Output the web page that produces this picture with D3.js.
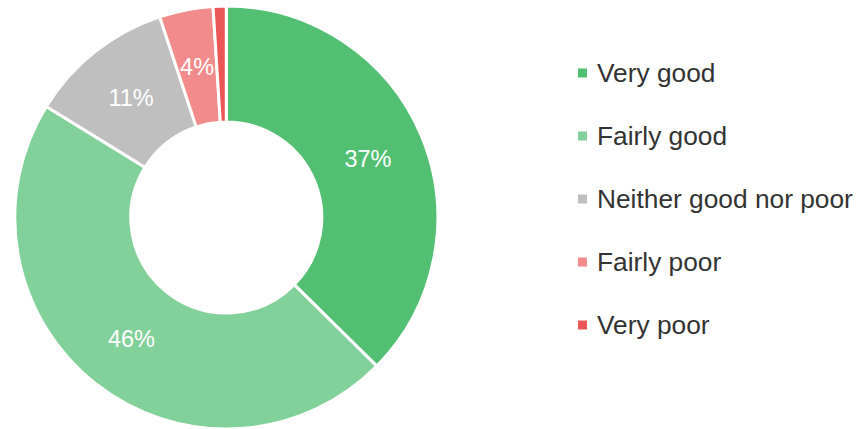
<!DOCTYPE html>
<html>
<head>
<meta charset="utf-8">
<script src="https://cdn.jsdelivr.net/npm/d3@7"></script>
<style>
  body { margin: 0; background: #fff; }
  text { font-family: "Liberation Sans", Arial, sans-serif; }
</style>
</head>
<body>
<div id="chart"></div>
<script>
const categories = ["Very good", "Fairly good", "Neither good nor poor", "Fairly poor", "Very poor"];
const values = [37.4, 46.4, 11.1, 4.1, 1.0];
const labels = ["37%", "46%", "11%", "4%", ""];
const colors = ["#52bf72", "#83d19a", "#bfbfbf", "#f28b8b", "#eb5757"];

const width = 858;
const height = 429;
const cx = 226.3, cy = 217.5;
const outerR = 211.5, innerR = 95.5;

const svg = d3.select("#chart")
    .append("svg")
    .attr("width", width)
    .attr("height", height);

const data = categories.map((c, i) => ({ name: c, value: values[i], label: labels[i], color: colors[i] }));

const pie = d3.pie().sort(null).value((d) => d.value);
const arc = d3.arc().innerRadius(innerR).outerRadius(outerR);

const g = svg.append("g").attr("transform", `translate(${cx},${cy})`);

const arcs = pie(data);

g.selectAll("path")
    .data(arcs)
    .join("path")
    .attr("d", arc)
    .attr("fill", (d) => d.data.color)
    .attr("stroke", "#fff")
    .attr("stroke-width", 3);

// labels sit at the middle of each ring segment
g.selectAll("text")
    .data(arcs)
    .join("text")
    .attr("transform", (d) => `translate(${arc.centroid(d)})`)
    .attr("text-anchor", "middle")
    .attr("dy", "0.36em")
    .attr("fill", "#fff")
    .attr("font-size", 23.5)
    .text((d) => d.data.label);

// legend
const legendY = d3.scalePoint().domain(categories).range([73, 325]);

const legend = svg.append("g");
const item = legend.selectAll("g")
    .data(data)
    .join("g")
    .attr("transform", (d) => `translate(578,${legendY(d.name)})`);

item.append("rect")
    .attr("x", 0)
    .attr("y", -4.5)
    .attr("width", 9)
    .attr("height", 9)
    .attr("fill", (d) => d.color);

item.append("text")
    .attr("x", 19)
    .attr("dy", "0.36em")
    .attr("fill", "#333")
    .attr("font-size", 26.3)
    .text((d) => d.name);
</script>
</body>
</html>
